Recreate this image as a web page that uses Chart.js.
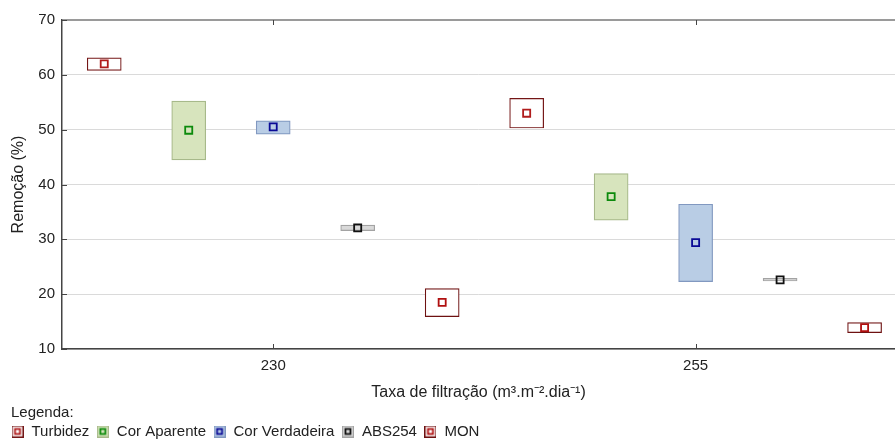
<!DOCTYPE html>
<html lang="pt">
<head>
    <meta charset="UTF-8">
    <title>Remoção x Taxa de filtração</title>
    <script src="https://cdn.jsdelivr.net/npm/chart.js"></script>
    <style>
        html, body { margin: 0; padding: 0; background: #fff; }
    </style>
</head>
<body>
    <canvas id="remocaoChart" width="895" height="441"></canvas>

    <script>
        // Grupos do eixo x (taxa de filtração)
        const taxas = ['230', '255'];
        const yTicks = [10, 20, 30, 40, 50, 60, 70];

        // Caixas [min, max] e ponto central por taxa (230, 255)
        const turbidezCaixa = [[60.8, 63.1], [50.3, 55.7]];
        const turbidezCentro = [62.0, 53.0];
        const corAparenteCaixa = [[44.5, 55.2], [33.5, 42.0]];
        const corAparenteCentro = [49.9, 37.8];
        const corVerdadeiraCaixa = [[49.2, 51.6], [22.3, 36.4]];
        const corVerdadeiraCentro = [50.5, 29.4];
        const abs254Caixa = [[31.6, 32.6], [22.4, 22.9]];
        const abs254Centro = [32.1, 22.6];
        const monCaixa = [[15.9, 21.0], [13.0, 14.8]];
        const monCentro = [18.5, 13.9];

        const fonte = 'Liberation Sans, Arial, sans-serif';
        const corTexto = '#222';
        const tituloLegenda = 'Legenda:';

        const series = [
            { nome: 'Turbidez', caixa: turbidezCaixa, centro: turbidezCentro, fundo: '#ffffff', borda: '#741616', marca: '#b01c1c' },
            { nome: 'Cor Aparente', caixa: corAparenteCaixa, centro: corAparenteCentro, fundo: '#d7e4bd', borda: '#a7b98a', marca: '#0c8a0c' },
            { nome: 'Cor Verdadeira', caixa: corVerdadeiraCaixa, centro: corVerdadeiraCentro, fundo: '#b9cde5', borda: '#8198c0', marca: '#0a0a96' },
            { nome: 'ABS254', caixa: abs254Caixa, centro: abs254Centro, fundo: '#d9d9d9', borda: '#a3a3a3', marca: '#111111' },
            { nome: 'MON', caixa: monCaixa, centro: monCentro, fundo: '#ffffff', borda: '#6e1111', marca: '#b01010' }
        ];

        // posição de cada caixa: 5 parâmetros por taxa
        const posicao = (g, i) => g * series.length + i + 0.5;

        // ícone da legenda: caixa com o marcador dentro
        function icone(s) {
            const c = document.createElement('canvas');
            c.width = 12; c.height = 12;
            const g = c.getContext('2d');
            g.fillStyle = s.fundo;
            g.fillRect(0.5, 0.5, 11, 11);
            g.strokeStyle = s.borda;
            g.lineWidth = 1.3;
            g.strokeRect(0.5, 0.5, 11, 11);
            g.strokeStyle = s.marca;
            g.lineWidth = 1.8;
            g.strokeRect(3.5, 3.5, 5, 5);
            return c;
        }

        const datasets = [];
        series.forEach((s, i) => {
            datasets.push({
                type: 'bar',
                label: s.nome,
                data: taxas.map((t, g) => ({ x: posicao(g, i), y: s.caixa[g] })),
                backgroundColor: s.fundo,
                borderColor: s.borda,
                borderWidth: 1.2,
                borderSkipped: false,
                barThickness: 34,
                grouped: false,
                order: 2
            });
            datasets.push({
                type: 'scatter',
                label: s.nome + ' centro',
                data: taxas.map((t, g) => ({ x: posicao(g, i), y: s.centro[g] })),
                pointStyle: 'rect',
                pointRadius: 5,
                pointBorderWidth: 1.8,
                borderColor: s.marca,
                backgroundColor: 'rgba(0,0,0,0)',
                order: 1
            });
        });

        // pequenas marcas voltadas para dentro nos eixos
        const marcasInternas = {
            id: 'marcasInternas',
            afterDatasetsDraw(chart) {
                const { ctx, chartArea: a, scales: { x, y } } = chart;
                ctx.save();
                ctx.strokeStyle = '#444';
                ctx.lineWidth = 1;
                ctx.beginPath();
                x.ticks.forEach(t => {
                    const px = Math.round(x.getPixelForValue(t.value)) + 0.5;
                    ctx.moveTo(px, a.bottom); ctx.lineTo(px, a.bottom - 5);
                    ctx.moveTo(px, a.top); ctx.lineTo(px, a.top + 5);
                });
                y.ticks.forEach(t => {
                    const py = Math.round(y.getPixelForValue(t.value)) + 0.5;
                    ctx.moveTo(a.left, py); ctx.lineTo(a.left + 5, py);
                });
                ctx.stroke();
                ctx.restore();
            }
        };

        // "Legenda:" alinhado com o primeiro ícone (o título da legenda só reserva o espaço)
        const tituloAlinhado = {
            id: 'tituloAlinhado',
            afterDraw(chart) {
                const lg = chart.legend;
                const pad = lg.options.labels.padding;
                const ctx = chart.ctx;
                ctx.save();
                ctx.font = '15px ' + fonte;
                ctx.fillStyle = corTexto;
                ctx.textBaseline = 'middle';
                ctx.textAlign = 'left';
                ctx.fillText(tituloLegenda, lg.left + pad, lg.top + 7.5);
                ctx.restore();
            }
        };

        Chart.defaults.font.family = fonte;
        Chart.defaults.font.size = 15;
        Chart.defaults.color = corTexto;

        new Chart(document.getElementById('remocaoChart'), {
            type: 'bar',
            data: { datasets },
            options: {
                responsive: false,
                devicePixelRatio: 1,
                animation: false,
                events: [],
                layout: { autoPadding: false, padding: { top: 20, left: 4, right: 0, bottom: 0 } },
                plugins: {
                    tooltip: { enabled: false },
                    legend: {
                        position: 'bottom',
                        align: 'start',
                        maxHeight: 36,
                        labels: {
                            usePointStyle: true,
                            pointStyleWidth: 13,
                            padding: 7,
                            font: { size: 15 },
                            color: corTexto,
                            generateLabels: () => series.map((s, i) => ({
                                text: s.nome,
                                pointStyle: icone(s),
                                datasetIndex: i * 2,
                                hidden: false,
                                lineWidth: 0,
                                fontColor: corTexto
                            }))
                        },
                        title: {
                            display: true,
                            text: '',
                            position: 'start',
                            font: { size: 15, lineHeight: 0.8 },
                            padding: 0
                        }
                    }
                },
                scales: {
                    x: {
                        type: 'linear',
                        offset: false,
                        min: 0,
                        max: 9.86,
                        afterBuildTicks: axis => {
                            axis.ticks = taxas.map((t, g) => ({ value: posicao(g, 2) }));
                        },
                        afterFit: s => { s.height = 56; },
                        ticks: {
                            autoSkip: false,
                            maxRotation: 0,
                            padding: 8,
                            callback: (v, idx) => taxas[idx]
                        },
                        grid: { display: false, drawTicks: false },
                        border: { display: true, color: '#444', width: 1.5 },
                        title: {
                            display: true,
                            text: 'Taxa de filtração (m³.m⁻².dia⁻¹)',
                            font: { size: 16 },
                            padding: { top: 0, bottom: 3 }
                        }
                    },
                    y: {
                        min: yTicks[0],
                        max: yTicks[yTicks.length - 1],
                        afterFit: s => { s.width = 58; },
                        ticks: { stepSize: 10, padding: 7 },
                        grid: {
                            drawTicks: false,
                            color: c => c.tick && c.tick.value === 70 ? '#9a9a9a' : '#dadada',
                            lineWidth: c => c.tick && c.tick.value === 70 ? 2 : 1
                        },
                        border: { color: '#444', width: 1.5 },
                        title: {
                            display: true,
                            text: 'Remoção (%)',
                            font: { size: 16 },
                            padding: { top: 5, bottom: 0 }
                        }
                    }
                }
            },
            plugins: [marcasInternas, tituloAlinhado]
        });
    </script>
</body>
</html>
